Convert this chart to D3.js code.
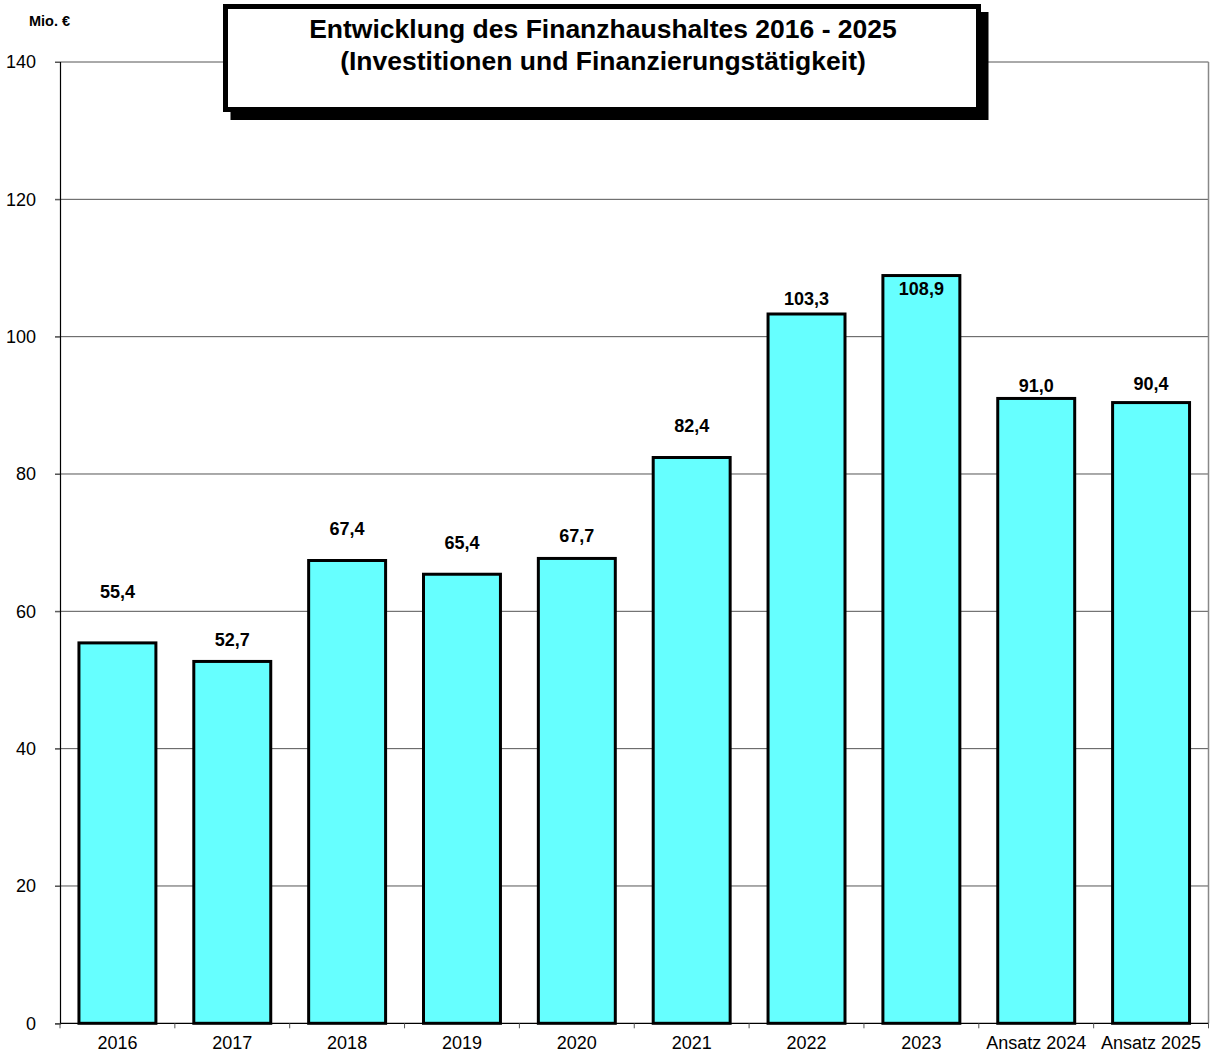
<!DOCTYPE html>
<html>
<head>
<meta charset="utf-8">
<script src="https://cdn.jsdelivr.net/npm/d3@7"></script>
<style>
  body { margin: 0; background: #fff; }
  svg { display: block; }
</style>
</head>
<body>
<div id="chart"></div>
<script>
const width = 1210;
const height = 1054;
const fontFamily = "Liberation Sans, Arial, sans-serif";

// Data
const categories = ["2016", "2017", "2018", "2019", "2020", "2021", "2022", "2023", "Ansatz 2024", "Ansatz 2025"];
const values = [55.4, 52.7, 67.4, 65.4, 67.7, 82.4, 103.3, 108.9, 91.0, 90.4];
// Where each value label sits, in axis units (labels were placed by hand in the original)
const labelAt = [62.8, 55.8, 72.0, 70.0, 71.0, 87.0, 105.6, 107.0, 92.9, 93.2];
const yTicks = [0, 20, 40, 60, 80, 100, 120, 140];
const titleLines = ["Entwicklung des Finanzhaushaltes 2016 - 2025", "(Investitionen und Finanzierungstätigkeit)"];
const unitLabel = "Mio. €";

const plot = { left: 60, right: 1208.5, top: 62, bottom: 1023.3 };

const svg = d3.select("#chart").append("svg")
  .attr("width", width)
  .attr("height", height)
  .attr("font-family", fontFamily);

const x = d3.scaleBand()
  .domain(categories)
  .range([plot.left, plot.right])
  .paddingInner(0.33)
  .paddingOuter(0.165);

const y = d3.scaleLinear()
  .domain([0, 140])
  .range([plot.bottom, plot.top]);

// Gridlines
svg.append("g")
  .selectAll("line")
  .data(yTicks.filter(d => d > 0))
  .enter()
  .append("line")
  .attr("x1", plot.left - 5)
  .attr("x2", plot.right)
  .attr("y1", d => y(d))
  .attr("y2", d => y(d))
  .attr("stroke", "#555")
  .attr("stroke-width", 1);

// Right border of plot area
svg.append("line")
  .attr("x1", plot.right).attr("x2", plot.right)
  .attr("y1", plot.top).attr("y2", plot.bottom)
  .attr("stroke", "#888")
  .attr("stroke-width", 1.5);

// Y axis
const yAxis = svg.append("g")
  .attr("transform", `translate(${plot.left},0)`)
  .call(d3.axisLeft(y).tickValues(yTicks).tickSize(5).tickPadding(19).tickFormat(d3.format("d")));
yAxis.select(".domain").attr("stroke", "#000").attr("stroke-width", 1.2);
yAxis.selectAll(".tick line").attr("stroke", "#555");
yAxis.attr("font-size", 18).attr("font-family", fontFamily);
yAxis.selectAll("text").attr("fill", "#000");

// X axis: ticks at category boundaries
const step = x.step();
const boundaries = categories.map(c => x(c) + x.bandwidth() / 2 - step / 2).concat([plot.right]);
const xg = svg.append("g");
xg.append("line")
  .attr("x1", plot.left).attr("x2", plot.right)
  .attr("y1", plot.bottom).attr("y2", plot.bottom)
  .attr("stroke", "#000")
  .attr("stroke-width", 1.2);
xg.selectAll("line.tick")
  .data(boundaries)
  .enter()
  .append("line")
  .attr("class", "tick")
  .attr("x1", d => d).attr("x2", d => d)
  .attr("y1", plot.bottom).attr("y2", plot.bottom + 5)
  .attr("stroke", "#555");
xg.selectAll("text")
  .data(categories)
  .enter()
  .append("text")
  .attr("x", d => x(d) + x.bandwidth() / 2)
  .attr("y", 1049)
  .attr("text-anchor", "middle")
  .attr("font-size", "18px")
  .attr("fill", "#000")
  .text(d => d);

// Bars
svg.append("g")
  .selectAll("rect")
  .data(values)
  .enter()
  .append("rect")
  .attr("x", (d, i) => x(categories[i]))
  .attr("y", d => y(d))
  .attr("width", x.bandwidth())
  .attr("height", d => plot.bottom - y(d))
  .attr("fill", "#66ffff")
  .attr("stroke", "#000")
  .attr("stroke-width", 3);

// Value labels
svg.append("g")
  .selectAll("text")
  .data(values)
  .enter()
  .append("text")
  .attr("x", (d, i) => x(categories[i]) + x.bandwidth() / 2)
  .attr("y", (d, i) => y(labelAt[i]))
  .attr("dy", "0.35em")
  .attr("text-anchor", "middle")
  .attr("font-size", "18px")
  .attr("font-weight", "bold")
  .attr("fill", "#000")
  .text(d => d3.format(".1f")(d).replace(".", ","));

// Unit label
svg.append("text")
  .attr("x", 29)
  .attr("y", 26)
  .attr("font-size", "14.5px")
  .attr("font-weight", "bold")
  .text(unitLabel);

// Title box with shadow
const box = { x: 225.5, y: 6.5, w: 753, h: 103 };
svg.append("rect")
  .attr("x", box.x + 5)
  .attr("y", box.y + 5.5)
  .attr("width", box.w + 5)
  .attr("height", box.h + 5)
  .attr("fill", "#000");
svg.append("rect")
  .attr("x", box.x)
  .attr("y", box.y)
  .attr("width", box.w)
  .attr("height", box.h)
  .attr("fill", "#fff")
  .attr("stroke", "#000")
  .attr("stroke-width", 5);

svg.append("g")
  .selectAll("text")
  .data(titleLines)
  .enter()
  .append("text")
  .attr("x", 603)
  .attr("y", (d, i) => 38 + i * 32)
  .attr("text-anchor", "middle")
  .attr("font-size", "26.5px")
  .attr("font-weight", "bold")
  .attr("fill", "#000")
  .text(d => d);
</script>
</body>
</html>
